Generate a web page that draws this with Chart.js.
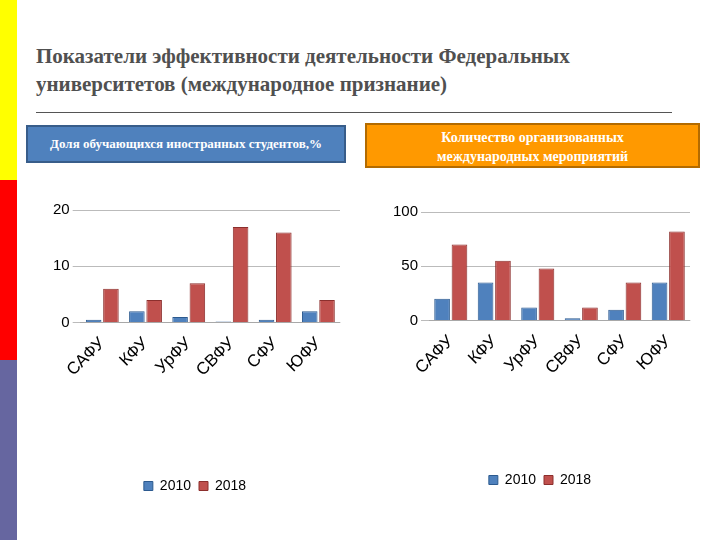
<!DOCTYPE html>
<html><head><meta charset="utf-8">
<script src="https://cdn.jsdelivr.net/npm/chart.js@4"></script>
<style>
body{margin:0;width:720px;height:540px;background:#fff;position:relative;overflow:hidden;font-family:"Liberation Serif",serif}
.s{position:absolute;left:0;width:17px}
#t{position:absolute;left:36px;top:42px;font-size:21px;font-weight:bold;color:#505050;line-height:28px}
#ln{position:absolute;left:36px;top:112px;width:636px;height:1px;background:#555}
.h{position:absolute;color:#fff;text-align:center;font-weight:bold;font-size:13px;box-sizing:border-box}
.c{position:absolute}
</style></head><body>
<div class="s" style="top:0;height:180px;background:#ffff00"></div>
<div class="s" style="top:180px;height:180px;background:#ff0000"></div>
<div class="s" style="top:360px;height:180px;background:#6666a0"></div>
<div id="t">Показатели эффективности деятельности Федеральных<br>университетов (международное признание)</div>
<div id="ln"></div>
<div class="h" style="left:26px;top:125px;width:320px;height:38px;background:#4f81bd;border:2px solid #385d8a;line-height:34px">Доля обучающихся иностранных студентов,%</div>
<div class="h" style="left:365px;top:123px;width:335px;height:45px;background:#ff9900;border:2px solid #b36b00;line-height:19px;padding-top:3px;font-size:14px">Количество организованных<br>международных мероприятий</div>
<div class="c" style="left:50px;top:198px;width:300px;height:305px"><canvas id="a"></canvas></div>
<div class="c" style="left:390px;top:200px;width:310px;height:297px"><canvas id="b"></canvas></div>
<script>
const categories=["САФУ","КФУ","УрФУ","СВФУ","СФУ","ЮФУ"];
const share2010=[0.5,2,1,0.2,0.5,2];
const share2018=[6,4,7,17,16,4];
const events2010=[20,35,12,2,10,35];
const events2018=[70,55,48,12,35,82];
function mk(id,d1,d2,max,step){
 new Chart(document.getElementById(id),{type:'bar',
 data:{labels:categories,datasets:[
  {label:'2010',data:d1,backgroundColor:'#4f81bd',borderColor:'#2c5a8f',borderWidth:1},
  {label:'2018',data:d2,backgroundColor:'#c0504d',borderColor:'#8c2f2d',borderWidth:1}]},
 options:{responsive:true,maintainAspectRatio:false,animation:false,
  layout:{padding:{left:0,right:10,top:8}},
  plugins:{legend:{position:'bottom',labels:{boxWidth:9,boxHeight:9,font:{family:'Liberation Sans',size:14},color:'#000',padding:8}}},
  scales:{x:{grid:{display:false},title:{display:true,text:' ',padding:{top:80,bottom:0}},ticks:{maxRotation:45,minRotation:45,font:{family:'Liberation Sans',size:17},color:'#000'}},
   y:{min:0,max:max,ticks:{stepSize:step,font:{family:'Liberation Sans',size:15},color:'#000'},grid:{color:'#bbb',borderDash:[2,3]},border:{display:false}}}}});
}
mk('a',share2010,share2018,20,10);
mk('b',events2010,events2018,100,50);
</script></body></html>
